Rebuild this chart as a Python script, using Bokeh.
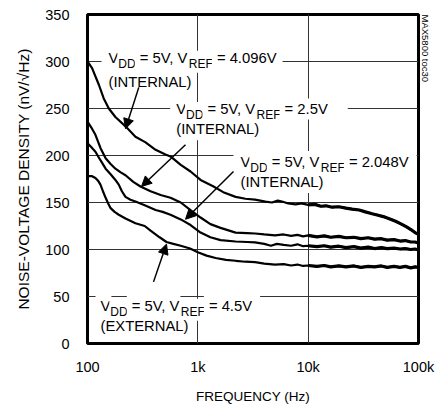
from bokeh.plotting import figure
from bokeh.models import Label, Arrow, NormalHead, FixedTicker, Range1d, Title
from bokeh.embed import file_html
from bokeh.resources import INLINE

# ---------------- data ----------------
freq_tick_values = [100, 1000, 10000, 100000]
freq_tick_labels = ["100", "1k", "10k", "100k"]
noise_ticks = [0, 50, 100, 150, 200, 250, 300, 350]

# VDD = 5V, VREF = 4.096V (internal)
f_4096 = [100, 110, 127, 140, 156, 179, 221, 272, 336, 414, 509, 565, 700, 859, 1058, 1388, 1700, 2200, 2700, 3300,
          4100, 4700, 5300, 5800, 6600, 7700, 8700, 10000, 11500, 13000, 14500, 16500, 19000, 22000, 25000, 29000,
          33000, 38000, 43000, 48000, 55000, 62000, 70000, 78000, 86000, 93000, 100000]
v_4096 = [300, 293, 275, 261, 250, 241, 231, 220, 214, 206, 201, 199, 190, 183, 174, 167, 161, 156, 154, 153,
          151, 150, 152, 151, 149, 148, 149, 147.5, 148, 146, 146.5, 145, 145.5, 144, 143, 142,
          140, 138, 136.5, 135, 132.5, 130, 127, 124, 121, 118, 116]

# VDD = 5V, VREF = 2.5V (internal)
f_2500 = [100, 108, 118, 131, 146, 162, 179, 200, 221, 260, 302, 373, 460, 565, 700, 859, 1058, 1300, 1606, 2200,
          2800, 3300, 4000, 5000, 6000, 7000, 8000, 9000, 10000, 12000, 14000, 16000, 19000, 22000, 26000, 30000,
          35000, 40000, 46000, 52000, 60000, 68000, 76000, 85000, 93000, 100000]
v_2500 = [236, 230, 222, 208, 197, 191, 186, 182, 179, 172, 167, 162, 158, 155, 150, 142, 134, 127, 123, 118,
          117.5, 117, 116, 115, 116, 114.5, 115.5, 114, 115, 113.5, 114.5, 113, 114, 112.5, 113, 111.5,
          112.5, 111, 111.5, 110, 110.5, 109, 109.5, 108, 108, 107]

# VDD = 5V, VREF = 2.048V (internal)
f_2048 = [100, 108, 118, 131, 146, 162, 179, 192, 205, 221, 245, 272, 330, 414, 480, 565, 700, 859, 1058, 1300,
          1606, 2200, 2800, 3300, 4000, 4600, 5200, 6000, 7000, 8000, 9000, 10000, 12000, 14000, 16000, 19000,
          22000, 26000, 30000, 35000, 40000, 46000, 52000, 60000, 68000, 76000, 85000, 93000, 100000]
v_2048 = [213, 209, 204, 195, 186, 180, 174, 169, 162, 156, 153, 151, 147, 142, 140, 137, 132, 126, 118, 113,
          110, 108.5, 108, 107.5, 106, 104, 106, 105, 104, 105.5, 103.5, 104, 103, 104, 102.5, 103.5,
          102, 103, 101.5, 102.5, 101, 102, 101, 101.5, 100.5, 101, 100, 100.5, 99.5]

# VDD = 5V, VREF = 4.5V (external)
f_4500 = [100, 110, 118, 125, 131, 138, 146, 154, 162, 176, 192, 221, 272, 330, 373, 450, 520, 600, 700, 850,
          1000, 1200, 1450, 1800, 2200, 2700, 3300, 4000, 5000, 6000, 7000, 8000, 9000, 10000, 12000, 14000,
          16000, 19000, 22000, 26000, 30000, 35000, 40000, 46000, 52000, 60000, 68000, 76000, 85000, 93000, 100000]
v_4500 = [178, 178, 176, 173, 169, 162, 155, 149, 144, 140, 137, 133, 128, 125, 120, 113, 108, 106, 104, 101,
          97, 93.5, 91, 89, 88, 87, 86.5, 85, 84, 84.5, 83, 84, 82.5, 83, 82, 83,
          81.5, 82.5, 81.5, 82.5, 81, 82, 81.5, 82.5, 81, 82, 81, 82, 80.5, 81.5, 81]

series = [(f_4096, v_4096), (f_2500, v_2500), (f_2048, v_2048), (f_4500, v_4500)]

# ---------------- layout ----------------
FONT = "Liberation Sans"
MAIN = 14.8
SUB = 12
SUB_SHIFT = 4
TITLE = 13.5

W, H = 437, 406
FL, FR, FT, FB = 87, 418, 14, 345   # frame edges in canvas pixels

p = figure(width=W, height=H, x_axis_type="log",
           x_range=Range1d(100, 100000), y_range=Range1d(0, 350),
           output_backend="svg", toolbar_location=None,
           min_border_left=FL, min_border_right=W - FR,
           min_border_top=FT, min_border_bottom=H - FB)
p.background_fill_color = "white"
p.border_fill_color = "white"
p.outline_line_color = "black"
p.outline_line_width = 3


def fx(px):
    return 100 * 10 ** (3 * (px - FL) / (FR - FL))


def vy(py):
    return 350 * (FB - py) / (FB - FT)


# axes
p.xaxis.ticker = FixedTicker(ticks=freq_tick_values)
p.xaxis.major_label_overrides = {t: l for t, l in zip(freq_tick_values, freq_tick_labels)}
p.yaxis.ticker = FixedTicker(ticks=noise_ticks)
for ax in (p.xaxis[0], p.yaxis[0]):
    ax.axis_line_color = None
    ax.major_tick_out = 0
    ax.major_tick_in = 0
    ax.minor_tick_out = 0
    ax.minor_tick_in = 0
    ax.major_label_text_font = FONT
    ax.major_label_text_font_size = "14.5px"
    ax.major_label_text_color = "black"
p.xaxis.major_label_standoff = 15
p.yaxis.major_label_standoff = 18
p.xaxis.axis_label = "FREQUENCY (Hz)"
p.xaxis.axis_label_text_font = FONT
p.xaxis.axis_label_text_font_size = f"{TITLE}px"
p.xaxis.axis_label_text_font_style = "normal"
p.xaxis.axis_label_text_color = "black"
p.xaxis.axis_label_standoff = 11

p.add_layout(Title(text="NOISE-VOLTAGE DENSITY (nV/√Hz)", align="center", offset=-18, standoff=22,
                   text_font=FONT, text_font_size="15.5px", text_font_style="normal",
                   text_color="black"), "left")
p.add_layout(Title(text="MAX5800 toc30", align="left", standoff=3,
                   text_font=FONT, text_font_size="9.5px", text_font_style="normal",
                   text_color="black"), "right")

p.xgrid.ticker = FixedTicker(ticks=freq_tick_values)
p.ygrid.ticker = FixedTicker(ticks=noise_ticks)
for g in (p.xgrid[0], p.ygrid[0]):
    g.grid_line_color = "#333333"
    g.grid_line_width = 1

# curves
for f, v in series:
    p.line(f, v, line_width=2.2, line_color="black")
    hf = [(a, b) for a, b in zip(f, v) if a >= 10000]
    p.line([a for a, _ in hf], [b for _, b in hf], line_width=3.2, line_color="black")

# label text with subscripts (Liberation Sans advance widths, em)
EM = {"V": 0.667, "D": 0.722, "R": 0.722, "E": 0.667, "F": 0.611, " ": 0.278, "=": 0.584,
      ",": 0.278, ".": 0.278}
for d in "0123456789":
    EM[d] = 0.556


def tw(s, size):
    return sum(EM.get(c, 0.55) for c in s) * size


def rich(x_px, base_px, parts, pl, pr):
    off = 0.0
    n = len(parts)
    for i, (t, sub) in enumerate(parts):
        size = SUB if sub else MAIN
        lead = len(t) - len(t.lstrip(" "))
        lead_w = lead * EM[" "] * size
        off += lead_w
        txt = t.strip()
        left = pl if i == 0 else int(round(lead_w)) + 1
        right = pr if i == n - 1 else 1
        top = 6 if sub else 3
        p.add_layout(Label(x=fx(x_px), y=vy(base_px + (SUB_SHIFT if sub else 0)), x_offset=off - left,
                           text=txt, text_font=FONT, text_font_size=f"{size}px",
                           text_color="black", text_baseline="alphabetic", text_align="left",
                           background_fill_color="white",
                           padding=dict(left=left, right=right, top=top, bottom=2)))
        off += tw(txt, size)


def plain(x_px, base_px, text, pl, pr):
    p.add_layout(Label(x=fx(x_px), y=vy(base_px), x_offset=-pl, text=text, text_font=FONT,
                       text_font_size=f"{MAIN}px", text_color="black", text_baseline="alphabetic",
                       background_fill_color="white",
                       padding=dict(left=pl, right=pr, top=2, bottom=3)))


labels = [
    (108, 57.5, 82, "4.096V", "(INTERNAL)", 7, 6),
    (175.7, 109, 130, "2.5V", "(INTERNAL)", 6, 20),
    (240, 162, 183, "2.048V", "(INTERNAL)", 7, 8),
    (100, 307, 328, "4.5V", "(EXTERNAL)", 5, 8),
]
for x0, b1, b2, vref, kind, pl, pr in labels:
    rich(x0, b1, [("V", 0), ("DD", 1), (" = 5V, V", 0), ("REF", 1), (" = " + vref, 0)], pl, pr)
    plain(x0, b2, kind, 3, 3)

# arrows (start -> tip), canvas pixels
arrows = [((138.3, 87.3), (125, 129)), ((185, 145), (141, 187)),
          ((233, 172), (185, 220)), ((153, 283), (166, 245))]
for (xs, ys), (xe, ye) in arrows:
    p.add_layout(Arrow(x_start=fx(xs), y_start=vy(ys), x_end=fx(xe), y_end=vy(ye),
                       line_width=1.5, line_color="black",
                       end=NormalHead(size=10, fill_color="black", line_color="black", line_width=1)))

open("out.html", "w").write(file_html(p, INLINE))
